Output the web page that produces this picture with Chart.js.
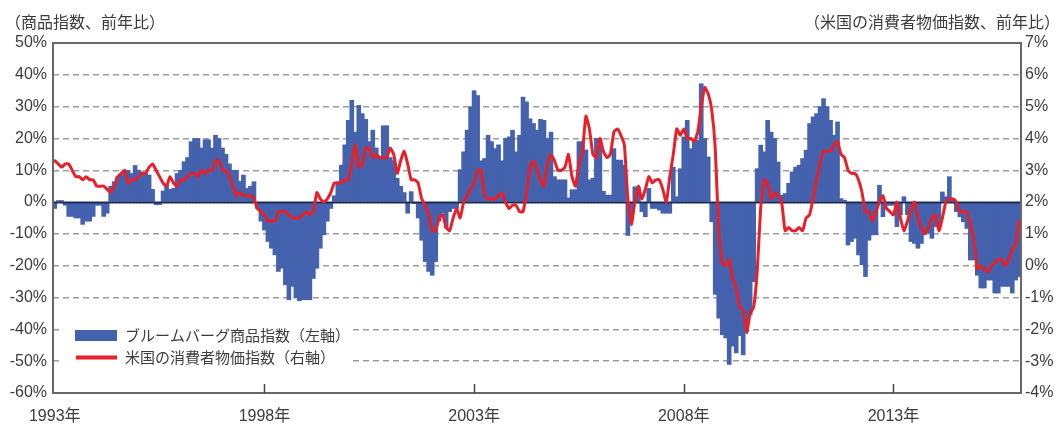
<!DOCTYPE html>
<html lang="ja">
<head>
<meta charset="utf-8">
<title>商品指数と米国CPI</title>
<script src="https://cdn.jsdelivr.net/npm/chart.js@4.4.1/dist/chart.umd.min.js"></script>
<style>
  html, body { margin: 0; padding: 0; background: #fff; }
  #wrap { position: relative; width: 1054px; height: 426px; }
</style>
</head>
<body>
<div id="wrap"><canvas id="chart" width="1054" height="426"></canvas></div>
<script>
// monthly data, 1993/01 - 2016/01
const years = [1993, 1994, 1995, 1996, 1997, 1998, 1999, 2000, 2001, 2002, 2003, 2004,
               2005, 2006, 2007, 2008, 2009, 2010, 2011, 2012, 2013, 2014, 2015, 2016];
const tickYears = [1993, 1998, 2003, 2008, 2013];

// ブルームバーグ商品指数 前年比(%)
const commodityYoY = [
  -2, 0.5, 0.5, -1, -4.5, -4.5, -5, -5, -7, -6, -6, -4.5,               // 1993
  -1, -1, -4.5, -3.5, 5, 6.4, 8, 8.5, 10, 10, 9, 11.5,                  // 1994
  10, 9.5, 9, 8.5, 4, -0.8, -0.8, 3.5, 5.5, 4, 4.3, 9,                  // 1995
  10, 12.7, 14, 19, 20, 20, 17, 19.6, 19.6, 17, 21, 20,                 // 1996
  17, 15, 12, 10, 10, 6.5, 8.5, 4.3, 5, 6.4, -2, -6,                    // 1997
  -8.8, -12.4, -14.5, -16.6, -21.8, -20.8, -26, -30.7, -26.5, -30, -31, -30.7, // 1998
  -30.7, -30.7, -24, -20.8, -14.5, -10.3, -6, -2, 2, 6.4, 11.6, 18,     // 1999
  25.7, 32, 22, 30.4, 27.8, 26, 19, 22.6, 17, 14, 24, 24,               // 2000
  14, 13, 7.5, 5, 3, -3.5, 3.3, -0.5, -5, -12, -18.7, -21.8,            // 2001
  -23, -18.7, -6, -3.5, -8, -3, -2, -2, 10.2, 15.8, 22.6, 30,           // 2002
  35, 33.5, 13, 13.7, 21, 19, 16.8, 18, 13, 20, 20.5, 22.6,             // 2003
  15.8, 21, 33, 31.5, 26.2, 24.7, 22.6, 26, 25.7, 20, 22, 8,            // 2004
  7, 7, 7, 1.3, 3.9, 3.9, 19, 19, 16.4, 7, 7.5, 20,                     // 2005
  20, 3.4, 2.2, 2.2, 16.8, 13.2, 13.2, 11.6, -10.5, -4, 4.8, 4.8,       // 2006
  -3, -4.6, 4.3, -2, -2, -2.5, -3.5, -3.5, -3.5, 11, 1.7, 10.5,         // 2007
  20.5, 25.7, 16.8, 19.4, 19.4, 37.2, 20, 14.2, -6.2, -29, -36.5, -41.7, // 2008
  -42.7, -51, -45.3, -47.4, -42, -48, -40.6, -35.4, -25, 10.5, 17.9, 15.8, // 2009
  25.7, 22, 20, 12.6, 2.2, 2.7, 5.9, 9.5, 11, 11.6, 13.7, 16.3,         // 2010
  24.7, 26.8, 27.8, 30, 32.5, 30, 25.7, 21, 25.2, 1.1, 0.6, -13.5,      // 2011
  -12.4, -11.4, -16.6, -19.7, -23.4, -12, -10.3, -10.3, 5.3, -4.6, -1, -1, // 2012
  -1, -7.7, -4, 1.7, -4, -12.4, -13, -14.5, -13, -9.8, -9.8, -11.4,     // 2013
  -7.7, -7.7, 3.2, 1.7, 8, 1.1, -3, -4.6, -6.2, -8.3, -18.2, -18.2,     // 2014
  -23, -27, -27, -24.5, -24.5, -28.6, -28.6, -26.5, -26.5, -26.5, -28.6, -24.5, // 2015
  -23.4                                                                 // 2016
];

// 米国の消費者物価指数 前年比(%)
const cpiYoY = [
  3.3, 3.2, 3.1, 3.2, 3.2, 3.0, 2.8, 2.8, 2.7, 2.8, 2.7, 2.7,   // 1993
  2.5, 2.5, 2.5, 2.4, 2.3, 2.5, 2.8, 2.9, 3.0, 2.6, 2.7, 2.7,   // 1994
  2.8, 2.9, 2.9, 3.1, 3.2, 3.0, 2.8, 2.6, 2.5, 2.8, 2.6, 2.5,   // 1995
  2.7, 2.7, 2.8, 2.9, 2.9, 2.8, 3.0, 2.9, 3.0, 3.0, 3.3, 3.3,   // 1996
  3.0, 3.0, 2.8, 2.5, 2.2, 2.3, 2.2, 2.2, 2.2, 2.1, 1.8, 1.7,   // 1997
  1.6, 1.4, 1.4, 1.4, 1.7, 1.7, 1.7, 1.6, 1.5, 1.5, 1.5, 1.6,   // 1998
  1.7, 1.6, 1.7, 2.3, 2.1, 2.0, 2.1, 2.3, 2.6, 2.6, 2.6, 2.7,   // 1999
  2.7, 3.2, 3.8, 3.1, 3.2, 3.7, 3.7, 3.4, 3.5, 3.4, 3.4, 3.4,   // 2000
  3.7, 3.5, 2.9, 3.3, 3.6, 3.2, 2.7, 2.7, 2.6, 2.1, 1.9, 1.6,   // 2001
  1.1, 1.1, 1.5, 1.6, 1.2, 1.1, 1.5, 1.8, 1.5, 2.0, 2.2, 2.4,   // 2002
  2.6, 3.0, 3.0, 2.2, 2.1, 2.1, 2.1, 2.2, 2.3, 2.0, 1.8, 1.9,   // 2003
  1.9, 1.7, 1.7, 2.3, 3.1, 3.3, 3.0, 2.7, 2.5, 3.2, 3.5, 3.3,   // 2004
  3.0, 3.0, 3.1, 3.5, 2.8, 2.5, 3.2, 3.6, 4.7, 4.3, 3.5, 3.4,   // 2005
  4.0, 3.6, 3.4, 3.5, 4.2, 4.3, 4.1, 3.8, 2.1, 1.3, 2.0, 2.5,   // 2006
  2.1, 2.4, 2.8, 2.6, 2.7, 2.7, 2.4, 2.0, 2.8, 3.5, 4.3, 4.1,   // 2007
  4.3, 4.0, 4.0, 3.9, 4.2, 5.0, 5.6, 5.4, 4.9, 3.7, 1.1, 0.1,   // 2008
  0.0, 0.2, -0.4, -0.7, -1.3, -1.4, -2.1, -1.5, -1.3, -0.2, 1.8, 2.7, // 2009
  2.6, 2.1, 2.3, 2.2, 2.0, 1.1, 1.2, 1.1, 1.1, 1.2, 1.1, 1.5,   // 2010
  1.6, 2.1, 2.7, 3.2, 3.6, 3.6, 3.6, 3.8, 3.9, 3.5, 3.4, 3.0,   // 2011
  2.9, 2.9, 2.7, 2.3, 1.7, 1.7, 1.4, 1.7, 2.0, 2.2, 1.8, 1.7,   // 2012
  1.6, 2.0, 1.5, 1.1, 1.4, 1.8, 2.0, 1.5, 1.2, 1.0, 1.2, 1.5,   // 2013
  1.6, 1.1, 1.5, 2.0, 2.1, 2.1, 2.0, 1.7, 1.7, 1.7, 1.3, 0.8,   // 2014
  -0.1, 0.0, -0.1, -0.2, 0.0, 0.1, 0.2, 0.2, 0.0, 0.2, 0.5, 0.7, // 2015
  1.4                                                          // 2016
];

const months = [];
years.forEach(y => {
  for (let m = 1; m <= 12; m++) months.push(y + '/' + m);
});
months.length = cpiYoY.length;

const NUM_FONT = '"Liberation Sans", Arial, "Noto Sans CJK JP", sans-serif';
const JP_FONT = '"Noto Sans CJK JP", "Noto Sans CJK SC", sans-serif';
const TEXT_COLOR = '#3c3c3c';
const BAR_COLOR = '#4462ad';
const LINE_COLOR = '#e8202a';

// zero line over bars, frame, x tick marks, axis titles, legend
const decor = {
  id: 'decor',
  afterDatasetDraw(chart, args) {
    if (args.meta.type !== 'bar') return;
    const { ctx, chartArea: a, scales } = chart;
    const y0 = Math.round(scales.y.getPixelForValue(0)) + 0.5;
    ctx.save();
    ctx.strokeStyle = '#1e2b58';
    ctx.lineWidth = 2;
    ctx.beginPath();
    ctx.moveTo(a.left, y0);
    ctx.lineTo(a.right, y0);
    ctx.stroke();
    ctx.restore();
  },
  afterDraw(chart) {
    const { ctx, chartArea: a, scales } = chart;
    ctx.save();

    // frame
    ctx.strokeStyle = '#686868';
    ctx.lineWidth = 2;
    ctx.strokeRect(a.left, a.top, a.right - a.left, a.bottom - a.top);

    // tick marks on the time axis
    ctx.strokeStyle = '#444';
    ctx.lineWidth = 1.5;
    tickYears.forEach(y => {
      const idx = (y - years[0]) * 12;
      if (idx === 0) return;
      const x = Math.round(scales.x.getPixelForValue(idx)) + 0.5;
      ctx.beginPath();
      ctx.moveTo(x, a.bottom);
      ctx.lineTo(x, a.bottom - 9);
      ctx.stroke();
    });

    // axis titles
    ctx.fillStyle = TEXT_COLOR;
    ctx.font = '16px ' + JP_FONT;
    ctx.textBaseline = 'middle';
    ctx.textAlign = 'left';
    ctx.fillText('（商品指数、前年比）', 5, 22);
    ctx.textAlign = 'right';
    ctx.fillText('（米国の消費者物価指数、前年比）', 1060, 22);

    // legend
    ctx.fillStyle = '#fff';
    ctx.fillRect(63, 321, 288, 48);
    ctx.fillStyle = BAR_COLOR;
    ctx.fillRect(75, 330, 42, 11);
    ctx.strokeStyle = LINE_COLOR;
    ctx.lineWidth = 4;
    ctx.beginPath();
    ctx.moveTo(76, 357.5);
    ctx.lineTo(117, 357.5);
    ctx.stroke();
    ctx.fillStyle = TEXT_COLOR;
    ctx.font = '15px ' + JP_FONT;
    ctx.textAlign = 'left';
    ctx.fillText('ブルームバーグ商品指数（左軸）', 125, 335.5);
    ctx.fillText('米国の消費者物価指数（右軸）', 125, 357.5);

    ctx.restore();
  }
};

new Chart(document.getElementById('chart'), {
  type: 'bar',
  data: {
    labels: months,
    datasets: [
      {
        type: 'line',
        label: '米国の消費者物価指数（右軸）',
        data: cpiYoY,
        yAxisID: 'y2',
        borderColor: LINE_COLOR,
        borderWidth: 3,
        borderJoinStyle: 'round',
        borderCapStyle: 'round',
        pointRadius: 0,
        tension: 0.15,
        order: 0
      },
      {
        type: 'bar',
        label: 'ブルームバーグ商品指数（左軸）',
        data: commodityYoY,
        yAxisID: 'y',
        backgroundColor: BAR_COLOR,
        borderWidth: 0,
        barThickness: 4,
        order: 1
      }
    ]
  },
  options: {
    responsive: false,
    animation: false,
    events: [],
    layout: { padding: { top: 43, left: 0, right: 0, bottom: 0 } },
    plugins: {
      legend: { display: false },
      tooltip: { enabled: false }
    },
    scales: {
      x: {
        offset: true,
        grid: { display: false, drawTicks: false },
        border: { display: false },
        ticks: {
          autoSkip: false,
          maxRotation: 0,
          minRotation: 0,
          padding: 14,
          color: TEXT_COLOR,
          font: { family: NUM_FONT, size: 16 },
          callback: (v, i) => {
            const y = years[0] + Math.floor(i / 12);
            return (i % 12 === 0 && tickYears.includes(y)) ? y + '年' : null;
          }
        },
        afterFit: s => { s.height = 33; }
      },
      y: {
        position: 'left',
        min: -60,
        max: 50,
        grid: {
          drawTicks: false,
          lineWidth: 1.5,
          color: c => [0, 50, -60].includes(c.tick && c.tick.value) ? 'rgba(0,0,0,0)' : '#9c9c9c'
        },
        border: { display: false, dash: [6, 4] },
        ticks: {
          stepSize: 10,
          padding: 6,
          color: TEXT_COLOR,
          font: { family: NUM_FONT, size: 16 },
          callback: v => v + '%'
        },
        afterFit: s => { s.width = 53; }
      },
      y2: {
        position: 'right',
        min: -4,
        max: 7,
        grid: { display: false, drawTicks: false },
        border: { display: false },
        ticks: {
          stepSize: 1,
          padding: 4,
          color: TEXT_COLOR,
          font: { family: NUM_FONT, size: 16 },
          callback: v => v + '%'
        },
        afterFit: s => { s.width = 33; }
      }
    }
  },
  plugins: [decor]
});
</script>
</body>
</html>
